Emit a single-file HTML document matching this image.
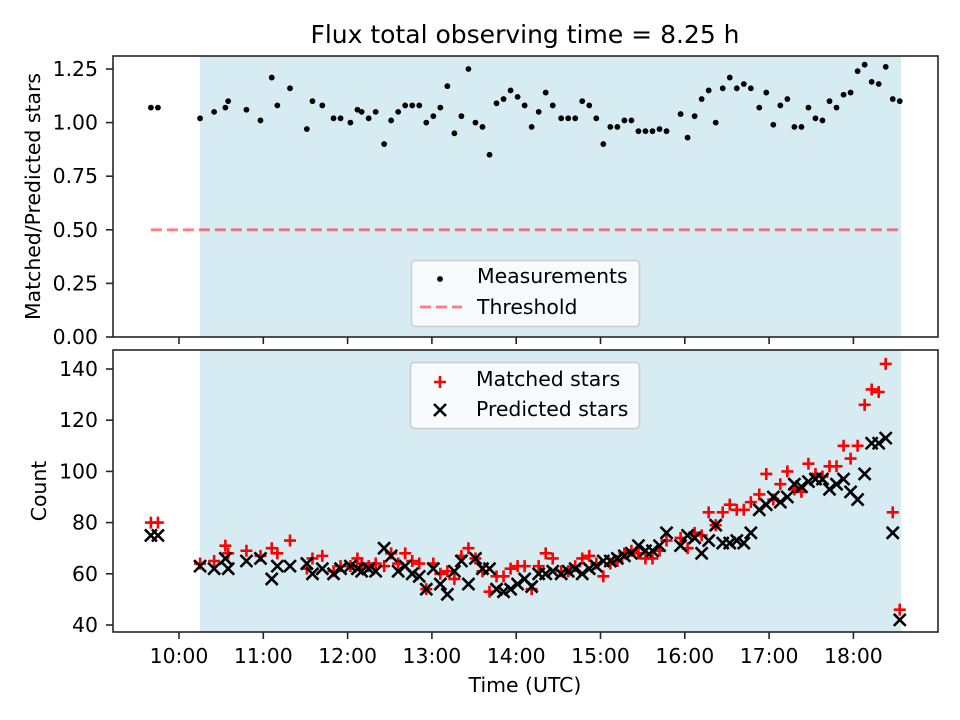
<!DOCTYPE html>
<html><head><meta charset="utf-8"><style>
html,body{margin:0;padding:0;background:#fff}
svg{display:block;font-family:"DejaVu Sans","Liberation Sans",sans-serif}
</style></head><body>
<svg id="chart" width="960" height="720" viewBox="0 0 960 720" xmlns="http://www.w3.org/2000/svg">
<text x="525" y="43" font-size="25" text-anchor="middle" fill="#000">Flux total observing time = 8.25 h</text>
<g id="topPanel"></g>
<g id="botPanel"></g>
</svg>
<script>
// minutes after 10:00 UTC
const times = [-20,-15,15,25,33,35,48,58,66,70,79,91,95,102,110,115,122,127,130,135,140,146,151,156,161,166,171,176,181,186,191,196,201,206,211,216,221,226,231,236,241,246,251,256,261,266,272,277,282,287,292,297,302,307,312,317,322,327,332,337,342,347,357,362,367,372,377,382,387,392,397,402,407,413,418,423,428,433,438,443,448,453,458,463,468,473,478,483,488,493,498,503,508,513];
const ratios = [1.07,1.07,1.02,1.05,1.07,1.10,1.06,1.01,1.21,1.08,1.16,0.97,1.10,1.08,1.02,1.02,1.00,1.06,1.05,1.02,1.05,0.90,1.01,1.05,1.08,1.08,1.08,1.00,1.03,1.07,1.17,0.95,1.03,1.25,1.00,0.98,0.85,1.09,1.11,1.15,1.12,1.08,0.98,1.05,1.14,1.08,1.02,1.02,1.02,1.10,1.08,1.02,0.90,0.98,0.98,1.01,1.01,0.96,0.96,0.96,0.97,0.96,1.04,0.93,1.03,1.11,1.15,1.00,1.16,1.21,1.16,1.18,1.16,1.07,1.14,0.99,1.08,1.11,0.98,0.98,1.07,1.02,1.01,1.10,1.07,1.13,1.14,1.24,1.27,1.19,1.18,1.26,1.11,1.10];
const predicted = [75,75,63,62,66,62,65,66,58,63,63,64,60,62,60,62,63,62,61,62,61,70,67,61,63,60,59,54,62,56,52,61,65,56,66,62,62,54,53,54,56,58,55,60,60,61,60,61,62,60,62,63,65,65,66,67,68,71,69,69,71,76,71,75,74,68,73,79,72,72,73,72,76,85,87,90,88,90,95,94,96,97,97,93,95,97,92,89,99,111,111,113,76,42];
const matched = [80,80,64,65,71,68,69,67,70,68,73,62,66,67,61,63,63,66,64,63,64,63,68,64,68,65,64,54,64,60,61,58,67,70,66,61,53,59,59,62,63,63,54,63,68,66,61,61,63,66,67,64,59,64,65,68,69,68,66,66,69,73,74,70,76,75,84,79,84,87,85,85,88,91,99,89,95,100,93,92,103,99,98,102,102,110,105,110,126,132,131,142,84,46];
const threshold = 0.5;
const ratioTicks = [0,0.25,0.5,0.75,1.0,1.25];
const countTicks = [40,60,80,100,120,140];
const xTickLabels = ["10:00","11:00","12:00","13:00","14:00","15:00","16:00","17:00","18:00"];
const xTickMinutes = [0,60,120,180,240,300,360,420,480];
const obsStart = 15, obsEnd = 514;

const NS="http://www.w3.org/2000/svg";
const L=113,R=938;
const FS=20.4;
const xs = m => 179 + m*84.3/60;
const yTop = v => 337 - v*214.4;
const yBot = v => 625 - (v-40)*2.56;
function mk(parent,tag,attrs){const e=document.createElementNS(NS,tag);for(const k in attrs)e.setAttribute(k,attrs[k]);parent.appendChild(e);return e;}

function panel(g,y0,y1,ticks,yf,fmt,ylabel,labelX){
  const sh=mk(g,'rect',{x:xs(obsStart),y:y0,width:xs(obsEnd)-xs(obsStart),height:y1-y0,fill:'#add8e6','fill-opacity':0.5});
  
  
  ticks.forEach(t=>{
    const y=yf(t);
    mk(g,'line',{x1:L-7,x2:L,y1:y,y2:y,stroke:'#262626','stroke-width':1.6});
    const tx=mk(g,'text',{x:L-15,y:y+7,'font-size':FS,'text-anchor':'end',fill:'#000'});
    tx.textContent=fmt(t);
    
    
  });
  xTickMinutes.forEach(m=>{mk(g,'line',{x1:xs(m),x2:xs(m),y1:y1,y2:y1+7,stroke:'#262626','stroke-width':1.6});});
  const yl=mk(g,'text',{transform:`translate(${labelX},${(y0+y1)/2}) rotate(-90)`,'font-size':FS,'text-anchor':'middle',fill:'#000'});
  yl.textContent=ylabel;
  
  
}

const topG=document.getElementById('topPanel'), botG=document.getElementById('botPanel');
panel(topG,56,337,ratioTicks,yTop,v=>v.toFixed(2),'Matched/Predicted stars',40);
panel(botG,350,632,countTicks,yBot,v=>String(v),'Count',46);

// threshold
const th=mk(topG,'line',{x1:xs(times[0]),x2:xs(times[times.length-1]),y1:yTop(threshold),y2:yTop(threshold),stroke:'#ff0000','stroke-opacity':0.5,'stroke-width':2.8,'stroke-dasharray':'11,5'});


// measurements
times.forEach((t,i)=>{
  const c=mk(topG,'circle',{cx:xs(t),cy:yTop(ratios[i]),r:2.9,fill:'#000'});
  
  
});
// bottom markers
times.forEach((t,i)=>{
  const x=xs(t),y=yBot(matched[i]);
  const p=mk(botG,'path',{d:`M${x-6},${y}H${x+6}M${x},${y-6}V${y+6}`,stroke:'#ff0000','stroke-width':2.6,fill:'none'});
  
  
});
times.forEach((t,i)=>{
  const x=xs(t),y=yBot(predicted[i]);
  const p=mk(botG,'path',{d:`M${x-6},${y-6}L${x+6},${y+6}M${x-6},${y+6}L${x+6},${y-6}`,stroke:'#000','stroke-width':2.6,fill:'none'});
  
  
});
// x tick labels
xTickMinutes.forEach((m,i)=>{
  const tx=mk(botG,'text',{x:xs(m),y:663,'font-size':FS,'text-anchor':'middle',fill:'#000'});
  tx.textContent=xTickLabels[i];
  
  
});
const xl=mk(botG,'text',{x:525,y:692,'font-size':FS,'text-anchor':'middle',fill:'#000'});
xl.textContent='Time (UTC)';


// frames
const f1=mk(topG,'rect',{x:L,y:56,width:R-L,height:281,fill:'none',stroke:'#262626','stroke-width':1.6});


const f2=mk(botG,'rect',{x:L,y:350,width:R-L,height:282,fill:'none',stroke:'#262626','stroke-width':1.6});



// legends
function legend(g,x,y,w,h,name){
  const r=mk(g,'rect',{x:x,y:y,width:w,height:h,rx:4,fill:'#fff','fill-opacity':0.8,stroke:'#cccccc','stroke-width':1.5});
  
  
}
legend(topG,411.5,260.5,228,66,'top-legend');
mk(topG,'circle',{cx:440,cy:279,r:2.9,fill:'#000'});
const lt1=mk(topG,'text',{x:477,y:283,'font-size':FS,fill:'#000'});lt1.textContent='Measurements';


mk(topG,'line',{x1:420,x2:462,y1:307,y2:307,stroke:'#ff0000','stroke-opacity':0.5,'stroke-width':2.8,'stroke-dasharray':'11,5'});
const lt2=mk(topG,'text',{x:477,y:314,'font-size':FS,fill:'#000'});lt2.textContent='Threshold';



legend(botG,410.5,362.5,229,66,'bottom-legend');
mk(botG,'path',{d:'M434,382H446M440,376V388',stroke:'#ff0000','stroke-width':2.6,fill:'none'});
const lt3=mk(botG,'text',{x:476,y:386,'font-size':FS,fill:'#000'});lt3.textContent='Matched stars';


mk(botG,'path',{d:'M434,404L446,416M434,416L446,404',stroke:'#000','stroke-width':2.6,fill:'none'});
const lt4=mk(botG,'text',{x:476,y:416,'font-size':FS,fill:'#000'});lt4.textContent='Predicted stars';


</script>
</body></html>
